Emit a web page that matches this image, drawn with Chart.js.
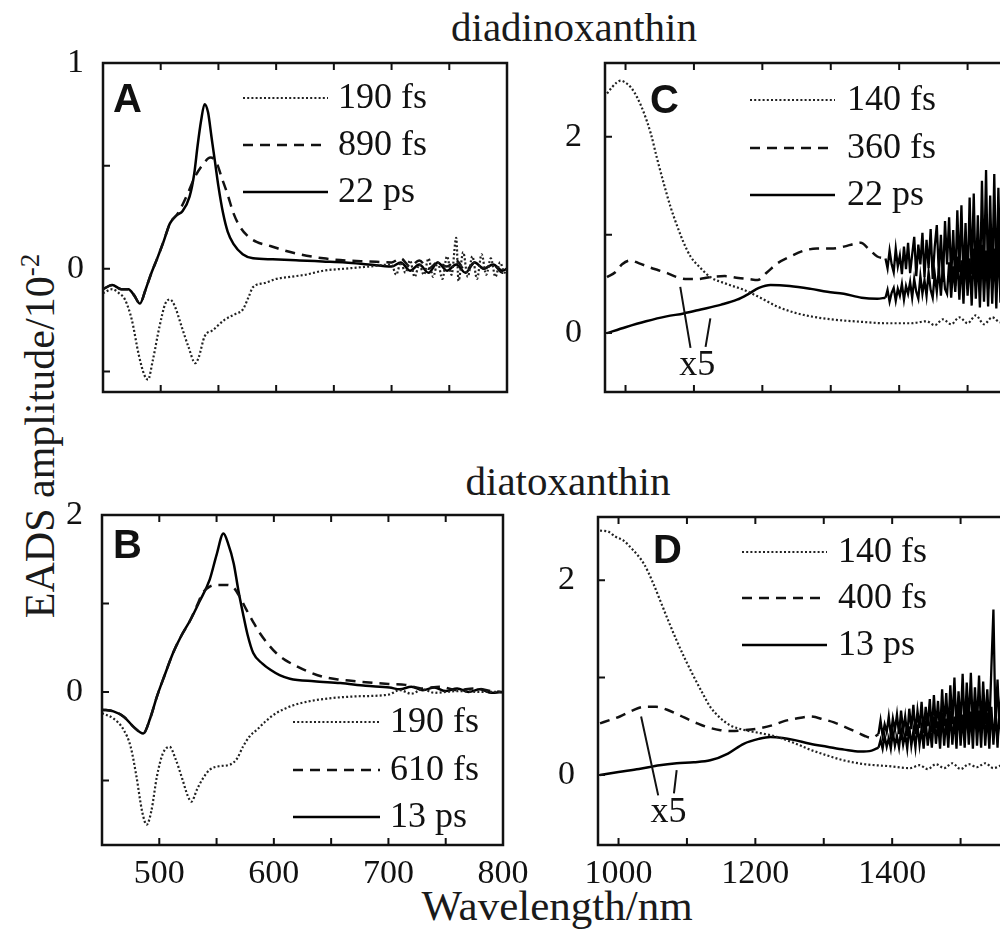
<!DOCTYPE html>
<html>
<head>
<meta charset="utf-8">
<script src="https://cdn.jsdelivr.net/npm/chart.js@4.4.1/dist/chart.umd.min.js"></script>
<style>
  html, body { margin: 0; width: 1000px; height: 940px; overflow: hidden; background: #fff; position: relative; }
  canvas.panel { position: absolute; }
  .lbl { position: absolute; font-family: "Liberation Serif", serif; font-size: 41px; line-height: 40px; color: #1a1a1a; white-space: nowrap; }
  .lbl sup { font-size: 27px; vertical-align: 0; position: relative; top: -15px; }
</style>
</head>
<body>
<div class="lbl" style="left:574px; top:7px; transform:translateX(-50%)">diadinoxanthin</div>
<div class="lbl" style="left:568px; top:461px; transform:translateX(-50%)">diatoxanthin</div>
<div class="lbl" style="left:557px; top:886px; font-size:43px; transform:translateX(-50%)">Wavelength/nm</div>
<div class="lbl" style="left:42px; top:436px; font-size:42px; transform:translate(-50%,-50%) rotate(-90deg)">EADS amplitude/10<sup>-2</sup></div>

<canvas id="pA" class="panel"></canvas>
<canvas id="pB" class="panel"></canvas>
<canvas id="pC" class="panel"></canvas>
<canvas id="pD" class="panel"></canvas>

<script>
// ---- dados ----
// A: diadinoxanthin, visível
const A_190_nm = [450,458,464,469,475,481,486,489,493,499,504,508,512,518,524,530,533,538,545,555,565,571,576,580,590,600,612,625,641,660,680,700,704,708,712,716,720,724,728,732,736,740,744,748,752,756,758,762,766,770,774,778,782,786,790,794,798,800];
const A_190 = [-0.12,-0.10,-0.12,-0.15,-0.25,-0.42,-0.52,-0.54,-0.45,-0.28,-0.17,-0.15,-0.18,-0.28,-0.38,-0.46,-0.43,-0.33,-0.30,-0.25,-0.22,-0.20,-0.14,-0.09,-0.07,-0.05,-0.04,-0.03,-0.01,0.00,0.01,0.02,-0.03,0.03,-0.02,0.04,-0.04,0.02,-0.03,0.05,-0.04,0.03,-0.05,0.06,-0.03,0.15,-0.06,0.08,-0.04,0.06,-0.05,0.07,-0.03,0.05,-0.04,0.03,-0.02,0.00];
const A_890_nm = [450,458,466,472,477,482,487,492,497,503,508,515,523,530,537,543,548,553,558,563,568,575,583,595,606,620,641,660,680,700,708,716,724,732,740,748,756,764,772,780,788,796,800];
const A_890 = [-0.10,-0.08,-0.10,-0.10,-0.13,-0.17,-0.10,-0.02,0.05,0.14,0.22,0.27,0.36,0.45,0.51,0.54,0.52,0.44,0.36,0.27,0.21,0.16,0.13,0.11,0.09,0.07,0.05,0.04,0.035,0.03,0.05,0.01,0.04,0.00,0.03,0.01,0.04,-0.01,0.03,0.00,0.02,-0.02,0.00];
const A_22_nm = [450,458,466,472,477,482,487,492,497,503,508,514,519,525,529,532,535,538,541,544,547,550,554,558,563,571,580,597,620,640,660,680,700,708,716,724,732,740,748,756,764,772,780,788,796,800];
const A_22 = [-0.10,-0.08,-0.10,-0.10,-0.13,-0.17,-0.10,-0.02,0.05,0.14,0.22,0.26,0.28,0.35,0.46,0.60,0.72,0.80,0.76,0.64,0.52,0.40,0.27,0.18,0.12,0.07,0.05,0.045,0.04,0.035,0.03,0.02,0.01,0.03,-0.01,0.02,-0.02,0.03,-0.01,0.02,-0.02,0.03,0.00,0.02,-0.01,0.00];

// B: diatoxanthin, visível
const B_190_nm = [450,460,469,475,480,485,489,493,498,503,509,514,520,525,528,533,538,544,552,562,568,573,579,585,593,602,615,629,650,672,700,710,720,730,740,750,760,780,800];
const B_190 = [-0.24,-0.30,-0.43,-0.62,-0.95,-1.35,-1.50,-1.35,-0.95,-0.70,-0.62,-0.75,-0.98,-1.18,-1.24,-1.10,-0.98,-0.88,-0.84,-0.82,-0.75,-0.62,-0.50,-0.43,-0.33,-0.24,-0.16,-0.11,-0.07,-0.05,-0.03,0.02,-0.02,0.03,-0.01,0.00,0.01,0.00,0.00];
const B_610_nm = [450,460,469,478,486,492,498,505,512,519,527,533,538,544,550,557,564,570,576,582,588,595,602,610,620,630,643,657,672,700,715,730,745,760,775,790,800];
const B_610 = [-0.20,-0.22,-0.28,-0.40,-0.47,-0.30,-0.05,0.20,0.44,0.63,0.81,0.98,1.12,1.19,1.21,1.21,1.19,1.08,0.93,0.79,0.66,0.54,0.44,0.36,0.29,0.23,0.17,0.14,0.12,0.09,0.08,0.04,0.06,0.02,0.04,0.01,0.00];
const B_13_nm = [450,460,469,478,486,492,498,505,512,519,527,535,544,550,556,560,565,569,573,577,582,590,597,605,614,635,658,680,701,710,720,730,740,750,760,770,780,790,800];
const B_13 = [-0.20,-0.22,-0.28,-0.40,-0.47,-0.30,-0.05,0.20,0.44,0.63,0.81,1.02,1.27,1.55,1.79,1.68,1.45,1.15,0.89,0.65,0.44,0.32,0.25,0.19,0.15,0.12,0.10,0.07,0.05,0.03,0.06,0.02,0.05,0.01,0.04,0.00,0.03,-0.01,0.00];

// comprimentos de onda da parte ruidosa (C e D)
const NIR_noise_nm = [1380,1383,1386,1389,1392,1395,1398,1401,1404,1407,1410,1413,1416,1419,1422,1425,1428,1431,1434,1437,1440,1443,1446,1449,1452,1455,1458,1461,1464,1467,1470,1473,1476,1479,1482,1485,1488,1491,1494,1497,1500,1503,1506,1509,1512,1515,1518,1521,1524,1527,1530,1533,1536,1539,1542,1545,1548,1551,1554,1557,1560];

// C: diadinoxanthin, infravermelho
const C_140_nm = [973,980,987,993,1000,1008,1017,1027,1037,1046,1056,1066,1076,1085,1095,1110,1124,1148,1173,1197,1222,1246,1271,1300,1344,1380,1417,1440,1452,1464,1476,1488,1500,1512,1524,1536,1548,1560];
const C_140 = [2.44,2.50,2.55,2.57,2.55,2.50,2.40,2.24,2.03,1.78,1.52,1.28,1.08,0.92,0.78,0.66,0.57,0.50,0.44,0.36,0.27,0.21,0.17,0.14,0.115,0.10,0.10,0.12,0.08,0.14,0.09,0.16,0.10,0.18,0.09,0.16,0.11,0.14];
const C_360_nm = [973,985,995,1007,1020,1035,1048,1061,1075,1090,1105,1124,1145,1165,1180,1193,1207,1222,1241,1261,1280,1300,1319,1335,1344,1355,1368,1380];
const C_360 = [0.57,0.62,0.70,0.74,0.71,0.67,0.64,0.61,0.57,0.55,0.55,0.57,0.58,0.56,0.55,0.54,0.62,0.71,0.78,0.84,0.86,0.86,0.88,0.91,0.92,0.86,0.78,0.76];
const C_360_noise = [0.76,0.66,0.84,0.70,0.62,0.86,0.68,0.79,0.60,0.88,0.65,0.92,0.61,0.80,0.98,0.58,0.90,0.70,1.02,0.57,0.95,0.66,1.06,0.55,0.88,1.10,0.60,1.00,0.52,1.14,0.70,1.18,0.55,1.05,0.48,1.25,0.62,1.30,0.50,1.12,0.45,1.38,0.60,1.42,0.48,1.20,0.42,1.55,0.58,1.66,0.45,1.40,0.50,1.62,0.44,1.48,0.55,1.58,0.46,1.50,0.52];
const C_22_nm = [973,1000,1030,1060,1085,1110,1140,1163,1180,1195,1212,1240,1271,1295,1319,1345,1368,1380];
const C_22 = [0.00,0.06,0.12,0.17,0.20,0.24,0.29,0.34,0.40,0.46,0.49,0.48,0.45,0.42,0.40,0.36,0.35,0.36];
const C_22_noise = [0.36,0.44,0.32,0.41,0.46,0.33,0.45,0.38,0.50,0.34,0.48,0.40,0.52,0.36,0.55,0.42,0.35,0.58,0.40,0.54,0.38,0.62,0.44,0.36,0.60,0.42,0.66,0.38,0.70,0.45,0.40,0.72,0.36,0.68,0.42,0.78,0.34,0.74,0.30,0.82,0.38,0.76,0.28,0.86,0.35,0.80,0.26,0.90,0.32,0.84,0.27,0.92,0.30,0.86,0.25,0.94,0.31,0.88,0.27,0.90,0.30];

// D: diatoxanthin, infravermelho
const D_140_nm = [973,985,995,1007,1020,1037,1050,1061,1073,1085,1098,1110,1122,1134,1148,1163,1185,1207,1232,1256,1280,1305,1329,1360,1395,1426,1440,1452,1464,1476,1488,1500,1512,1524,1536,1548,1560];
const D_140 = [2.51,2.50,2.45,2.41,2.32,2.17,1.98,1.79,1.58,1.38,1.18,1.01,0.85,0.70,0.59,0.51,0.46,0.43,0.39,0.33,0.26,0.20,0.15,0.11,0.09,0.07,0.10,0.06,0.11,0.07,0.12,0.06,0.11,0.08,0.12,0.07,0.10];
const D_400_nm = [973,990,1002,1020,1037,1055,1071,1090,1105,1115,1130,1149,1165,1185,1207,1225,1241,1260,1280,1300,1315,1329,1345,1360,1370,1380];
const D_400 = [0.53,0.57,0.60,0.66,0.70,0.70,0.67,0.61,0.56,0.53,0.49,0.46,0.45,0.46,0.48,0.51,0.55,0.58,0.60,0.57,0.54,0.50,0.45,0.40,0.38,0.42];
const D_400_noise = [0.42,0.56,0.40,0.52,0.44,0.60,0.41,0.58,0.46,0.62,0.42,0.66,0.45,0.60,0.40,0.68,0.47,0.72,0.42,0.66,0.48,0.75,0.43,0.70,0.50,0.78,0.44,0.82,0.48,0.76,0.42,0.88,0.50,0.84,0.44,0.92,0.52,1.00,0.45,0.86,0.50,1.04,0.44,0.95,0.52,1.05,0.46,0.90,0.50,1.02,0.45,0.96,0.52,0.88,0.46,1.10,1.70,0.50,0.98,0.48,0.92];
const D_13_nm = [973,1000,1030,1060,1085,1110,1134,1160,1183,1205,1222,1240,1256,1280,1305,1330,1353,1370,1380];
const D_13 = [0.00,0.03,0.06,0.10,0.12,0.13,0.15,0.22,0.32,0.37,0.39,0.38,0.36,0.32,0.29,0.26,0.24,0.25,0.28];
const D_13_noise = [0.28,0.36,0.27,0.40,0.29,0.38,0.27,0.44,0.30,0.40,0.28,0.46,0.31,0.42,0.27,0.50,0.30,0.45,0.28,0.52,0.31,0.48,0.27,0.56,0.30,0.50,0.28,0.60,0.32,0.55,0.27,0.64,0.30,0.58,0.28,0.66,0.31,0.60,0.27,0.70,0.30,0.62,0.28,0.72,0.31,0.65,0.27,0.74,0.30,0.66,0.28,0.72,0.30,0.64,0.27,0.70,0.31,0.66,0.28,0.72,0.30];

// ticks
const visTicks = [500,550,600,650,700,750,800];
const visLabels = [500,600,700,800];
const nirTicks = [1000,1100,1200,1300,1400,1500,1600];
const nirLabels = [1000,1200,1400];

// marcas "x5" (coordenadas em nm / amplitude)
const C_x5 = [[[1080,0.47],[1095,-0.15]], [[1124,0.15],[1117,-0.14]]];
const C_x5_text = [1105,-0.33];
const D_x5 = [[[1033,0.60],[1058,-0.21]], [[1085,0.05],[1081,-0.19]]];
const D_x5_text = [1073,-0.39];

const SERIF = '"Liberation Serif", "Times New Roman", serif';
const INK = '#111';

const lineStyles = {
  dot:   { borderColor: '#222', borderWidth: 2.2, borderDash: [2, 2.2] },
  dash:  { borderColor: '#111', borderWidth: 2.5, borderDash: [10, 7] },
  solid: { borderColor: '#000', borderWidth: 2.5, borderDash: [] },
  noise: { borderColor: '#000', borderWidth: 2.3, borderDash: [] }
};

function pts(xs, ys) {
  return xs.map((x, i) => ({ x: x, y: ys[i] }));
}

function series(label, xs, ys, style) {
  return Object.assign({
    label: label,
    data: pts(xs, ys),
    pointRadius: 0,
    fill: false,
    cubicInterpolationMode: 'monotone'
  }, lineStyles[style]);
}

// trecho ruidoso: linha reta ponto a ponto, fora da legenda
function noisy(xs, ys) {
  return Object.assign({
    label: '',
    data: pts(xs, ys),
    pointRadius: 0,
    fill: false,
    tension: 0,
    noLegend: true
  }, lineStyles.noise);
}

// moldura, ticks para dentro, letra, legenda e "x5"
const panelDeco = {
  id: 'panelDeco',
  afterDatasetsDraw(chart, args, o) {
    const ctx = chart.ctx;
    const a = chart.chartArea;
    const xs = chart.scales.x, ys = chart.scales.y;
    ctx.save();
    ctx.strokeStyle = INK;
    ctx.setLineDash([]);
    ctx.lineWidth = 2.5;
    ctx.strokeRect(a.left, a.top, a.right - a.left, a.bottom - a.top);

    ctx.lineWidth = 2;
    ctx.beginPath();
    xs.ticks.forEach(t => {
      const px = xs.getPixelForValue(t.value);
      ctx.moveTo(px, a.bottom); ctx.lineTo(px, a.bottom - 7);
      ctx.moveTo(px, a.top); ctx.lineTo(px, a.top + 7);
    });
    ys.ticks.forEach(t => {
      const py = ys.getPixelForValue(t.value);
      ctx.moveTo(a.left, py); ctx.lineTo(a.left + 7, py);
    });
    ctx.stroke();

    ctx.fillStyle = INK;
    ctx.font = 'bold 40px "Liberation Sans", Arial, sans-serif';
    ctx.textBaseline = 'alphabetic';
    ctx.textAlign = 'left';
    ctx.fillText(o.letter, a.left + o.letterAt[0], a.top + o.letterAt[1]);

    // legenda
    ctx.font = '36px ' + SERIF;
    ctx.textBaseline = 'middle';
    chart.data.datasets.filter(ds => !ds.noLegend).forEach((ds, i) => {
      const y = a.top + o.legendRows[i];
      ctx.save();
      ctx.strokeStyle = ds.borderColor;
      ctx.lineWidth = ds.borderWidth;
      ctx.setLineDash(ds.borderDash);
      ctx.beginPath();
      ctx.moveTo(a.left + o.legendLine[0], y);
      ctx.lineTo(a.left + o.legendLine[1], y);
      ctx.stroke();
      ctx.restore();
      ctx.fillText(ds.label, a.left + o.legendText, y + 1);
    });

    if (o.x5) {
      ctx.lineWidth = 2;
      ctx.beginPath();
      o.x5.forEach(seg => {
        ctx.moveTo(xs.getPixelForValue(seg[0][0]), ys.getPixelForValue(seg[0][1]));
        ctx.lineTo(xs.getPixelForValue(seg[1][0]), ys.getPixelForValue(seg[1][1]));
      });
      ctx.stroke();
      ctx.textAlign = 'center';
      ctx.fillText('x5', xs.getPixelForValue(o.x5Text[0]), ys.getPixelForValue(o.x5Text[1]));
    }
    ctx.restore();
  }
};

// cria um painel cuja área de plotagem ocupa "box" (px da página)
function makePanel(id, box, cfg) {
  const PADL = 110, PADT = 40, PADR = 40, PADB = 80;
  const cv = document.getElementById(id);
  cv.width = box.right - box.left + PADL + PADR;
  cv.height = box.bottom - box.top + PADT + PADB;
  cv.style.left = (box.left - PADL) + 'px';
  cv.style.top = (box.top - PADT) + 'px';

  const tickFont = { family: SERIF, size: 34 };

  return new Chart(cv, {
    type: 'line',
    data: { datasets: cfg.datasets },
    options: {
      responsive: false,
      animation: false,
      events: [],
      layout: { padding: { top: PADT, right: PADR, left: 0, bottom: 0 } },
      scales: {
        x: {
          type: 'linear',
          min: cfg.xMin, max: cfg.xMax,
          grid: { display: false },
          border: { display: false },
          afterBuildTicks: s => { s.ticks = cfg.xTicks.map(v => ({ value: v })); },
          afterFit: s => { s.height = PADB; s.paddingLeft = 0; s.paddingRight = 0; },
          ticks: {
            autoSkip: false, maxRotation: 0, padding: 1,
            font: tickFont, color: INK,
            callback: v => (cfg.showX && cfg.xLabels.includes(v)) ? String(v) : ''
          }
        },
        y: {
          type: 'linear',
          min: cfg.yMin, max: cfg.yMax,
          grid: { display: false },
          border: { display: false },
          afterBuildTicks: s => { s.ticks = cfg.yTicks.map(v => ({ value: v })); },
          afterFit: s => { s.width = PADL; s.paddingTop = 0; s.paddingBottom = 0; },
          ticks: {
            padding: cfg.yPad,
            font: tickFont, color: INK,
            callback: v => cfg.yLabels.includes(v) ? String(v) : ''
          }
        }
      },
      plugins: {
        legend: { display: false },
        tooltip: { enabled: false },
        panelDeco: cfg.deco
      }
    },
    plugins: [panelDeco]
  });
}

makePanel('pA', { left: 103, top: 63, right: 507, bottom: 392 }, {
  xMin: 450, xMax: 800, yMin: -0.6, yMax: 1.0,
  xTicks: visTicks, xLabels: visLabels, showX: false,
  yTicks: [-0.5, 0, 0.5, 1], yLabels: [0, 1], yPad: 11,
  datasets: [
    series('190 fs', A_190_nm, A_190, 'dot'),
    series('890 fs', A_890_nm, A_890, 'dash'),
    series('22 ps', A_22_nm, A_22, 'solid')
  ],
  deco: { letter: 'A', letterAt: [10, 49], legendRows: [35, 82, 129], legendLine: [140, 225], legendText: 235 }
});

makePanel('pB', { left: 102, top: 515, right: 503, bottom: 845 }, {
  xMin: 450, xMax: 800, yMin: -1.73, yMax: 2.0,
  xTicks: visTicks, xLabels: visLabels, showX: true,
  yTicks: [-1, 0, 1, 2], yLabels: [0, 2], yPad: 11,
  datasets: [
    series('190 fs', B_190_nm, B_190, 'dot'),
    series('610 fs', B_610_nm, B_610, 'dash'),
    series('13 ps', B_13_nm, B_13, 'solid')
  ],
  deco: { letter: 'B', letterAt: [11, 43], legendRows: [207, 255, 302], legendLine: [191, 278], legendText: 288 }
});

makePanel('pC', { left: 605, top: 63, right: 1036, bottom: 392 }, {
  xMin: 970, xMax: 1600, yMin: -0.6, yMax: 2.75,
  xTicks: nirTicks, xLabels: nirLabels, showX: false,
  yTicks: [0, 1, 2], yLabels: [0, 2], yPad: 15,
  datasets: [
    series('140 fs', C_140_nm, C_140, 'dot'),
    series('360 fs', C_360_nm, C_360, 'dash'),
    series('22 ps', C_22_nm, C_22, 'solid'),
    noisy(NIR_noise_nm, C_360_noise),
    noisy(NIR_noise_nm, C_22_noise)
  ],
  deco: { letter: 'C', letterAt: [45, 50], legendRows: [37, 85, 132], legendLine: [145, 230], legendText: 242,
          x5: C_x5, x5Text: C_x5_text }
});

makePanel('pD', { left: 598, top: 517, right: 1029, bottom: 845 }, {
  xMin: 970, xMax: 1600, yMin: -0.72, yMax: 2.65,
  xTicks: nirTicks, xLabels: nirLabels, showX: true,
  yTicks: [0, 1, 2], yLabels: [0, 2], yPad: 15,
  datasets: [
    series('140 fs', D_140_nm, D_140, 'dot'),
    series('400 fs', D_400_nm, D_400, 'dash'),
    series('13 ps', D_13_nm, D_13, 'solid'),
    noisy(NIR_noise_nm, D_400_noise),
    noisy(NIR_noise_nm, D_13_noise)
  ],
  deco: { letter: 'D', letterAt: [55, 46], legendRows: [35, 81, 128], legendLine: [144, 229], legendText: 240,
          x5: D_x5, x5Text: D_x5_text }
});
</script>
</body>
</html>
